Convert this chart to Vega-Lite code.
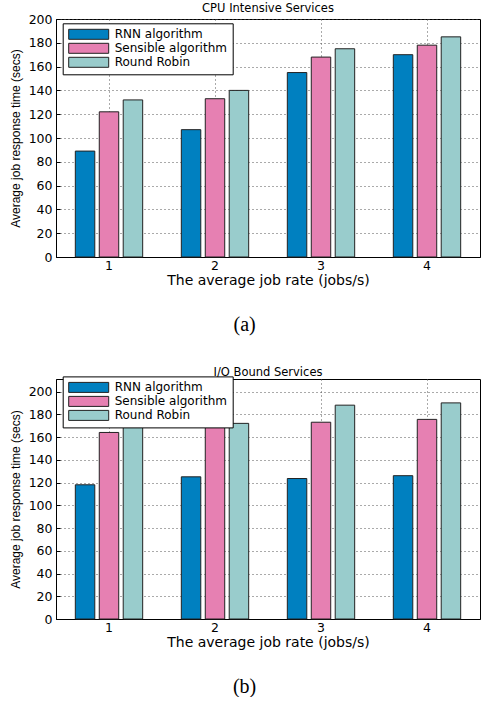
{
  "$schema": "https://vega.github.io/schema/vega-lite/v6.json",
  "background": "white",
  "padding": {"left": 8, "top": 2, "right": 0, "bottom": 0},
  "datasets": {
    "cpu": [
      {"rate": "1", "algorithm": "RNN algorithm", "value": 89},
      {"rate": "1", "algorithm": "Sensible algorithm", "value": 122},
      {"rate": "1", "algorithm": "Round Robin", "value": 132},
      {"rate": "2", "algorithm": "RNN algorithm", "value": 107},
      {"rate": "2", "algorithm": "Sensible algorithm", "value": 133},
      {"rate": "2", "algorithm": "Round Robin", "value": 140},
      {"rate": "3", "algorithm": "RNN algorithm", "value": 155},
      {"rate": "3", "algorithm": "Sensible algorithm", "value": 168},
      {"rate": "3", "algorithm": "Round Robin", "value": 175},
      {"rate": "4", "algorithm": "RNN algorithm", "value": 170},
      {"rate": "4", "algorithm": "Sensible algorithm", "value": 178},
      {"rate": "4", "algorithm": "Round Robin", "value": 185}
    ],
    "io": [
      {"rate": "1", "algorithm": "RNN algorithm", "value": 118},
      {"rate": "1", "algorithm": "Sensible algorithm", "value": 164},
      {"rate": "1", "algorithm": "Round Robin", "value": 169},
      {"rate": "2", "algorithm": "RNN algorithm", "value": 125},
      {"rate": "2", "algorithm": "Sensible algorithm", "value": 170},
      {"rate": "2", "algorithm": "Round Robin", "value": 172},
      {"rate": "3", "algorithm": "RNN algorithm", "value": 123.5},
      {"rate": "3", "algorithm": "Sensible algorithm", "value": 173},
      {"rate": "3", "algorithm": "Round Robin", "value": 188},
      {"rate": "4", "algorithm": "RNN algorithm", "value": 126},
      {"rate": "4", "algorithm": "Sensible algorithm", "value": 175.5},
      {"rate": "4", "algorithm": "Round Robin", "value": 190}
    ]
  },
  "spacing": 31,
  "resolve": {"scale": {"fill": "independent"}, "legend": {"fill": "independent"}},
  "vconcat": [
    {
      "title": {"text": "(a)", "orient": "bottom", "anchor": "middle", "frame": "bounds", "font": "Liberation Serif", "fontSize": 20, "fontWeight": "normal", "offset": 27, "color": "black"},
      "vconcat": [
        {
          "width": 424,
          "height": 238,
          "title": {"text": "CPU Intensive Services", "frame": "group", "offset": -1},
          "data": {"name": "cpu"},
          "mark": {"type": "bar", "stroke": "#222", "strokeWidth": 1},
          "encoding": {
            "x": {"field": "rate", "type": "nominal", "scale": {"paddingInner": 0, "paddingOuter": 0},
                  "axis": {"title": "The average job rate (jobs/s)"}},
            "xOffset": {"field": "algorithm", "type": "nominal", "sort": ["RNN algorithm", "Sensible algorithm", "Round Robin"],
                        "scale": {"paddingInner": 0.1875, "paddingOuter": 0.807}},
            "y": {"field": "value", "type": "quantitative", "scale": {"domain": [0, 200], "nice": false},
                  "axis": {"title": "Average job response time (secs)", "values": [0, 20, 40, 60, 80, 100, 120, 140, 160, 180, 200]}},
            "fill": {"field": "algorithm", "type": "nominal",
                     "scale": {"domain": ["RNN algorithm", "Sensible algorithm", "Round Robin"], "range": ["#0080C0", "#E680B2", "#99CCCC"]},
                     "legend": {"orient": "none", "legendX": 6.7, "legendY": 4.3}}
          }
        }
      ]
    },
    {
      "title": {"text": "(b)", "orient": "bottom", "anchor": "middle", "frame": "bounds", "font": "Liberation Serif", "fontSize": 20, "fontWeight": "normal", "offset": 27, "color": "black"},
      "vconcat": [
        {
          "width": 424,
          "height": 240,
          "title": {"text": "I/O Bound Services", "frame": "group"},
          "data": {"name": "io"},
          "mark": {"type": "bar", "stroke": "#222", "strokeWidth": 1},
          "encoding": {
            "x": {"field": "rate", "type": "nominal", "scale": {"paddingInner": 0, "paddingOuter": 0},
                  "axis": {"title": "The average job rate (jobs/s)"}},
            "xOffset": {"field": "algorithm", "type": "nominal", "sort": ["RNN algorithm", "Sensible algorithm", "Round Robin"],
                        "scale": {"paddingInner": 0.1875, "paddingOuter": 0.807}},
            "y": {"field": "value", "type": "quantitative", "scale": {"domain": [0, 211], "nice": false},
                  "axis": {"title": "Average job response time (secs)", "values": [0, 20, 40, 60, 80, 100, 120, 140, 160, 180, 200]}},
            "fill": {"field": "algorithm", "type": "nominal",
                     "scale": {"domain": ["RNN algorithm", "Sensible algorithm", "Round Robin"], "range": ["#0080C0", "#E680B2", "#99CCCC"]},
                     "legend": {"orient": "none", "legendX": 6.7, "legendY": -2.6}}
          }
        }
      ]
    }
  ],
  "config": {
    "view": {"stroke": "black", "strokeWidth": 1},
    "title": {"font": "DejaVu Sans", "fontSize": 11.5, "fontWeight": "normal", "color": "black", "offset": 1, "anchor": "middle"},
    "axis": {
      "labelFont": "DejaVu Sans", "labelFontSize": 12.5, "labelColor": "black",
      "domainColor": "black", "domainWidth": 1,
      "tickColor": "black", "tickSize": -4, "labelPadding": 8,
      "grid": true, "gridColor": "#555", "gridDash": [1, 3], "gridOpacity": 1, "gridWidth": 1,
      "titleColor": "black", "titleFontWeight": "normal"
    },
    "axisX": {"labelAngle": 0, "bandPosition": 0.5, "titleFont": "DejaVu Sans", "titleFontSize": 14, "titlePadding": 2, "labelPadding": 6},
    "axisY": {"titleFont": "Liberation Sans", "titleFontSize": 12, "titlePadding": 6},
    "legend": {
      "title": null, "strokeColor": "black", "strokeWidth": 1, "fillColor": "white",
      "padding": 5, "rowPadding": 0,
      "labelFont": "DejaVu Sans", "labelFontSize": 12, "labelColor": "black", "labelOffset": 35,
      "symbolType": "M-1,-1H7V1H-1Z", "symbolSize": 100, "symbolStrokeColor": "#222", "symbolStrokeWidth": 1, "symbolOpacity": 1
    }
  }
}
